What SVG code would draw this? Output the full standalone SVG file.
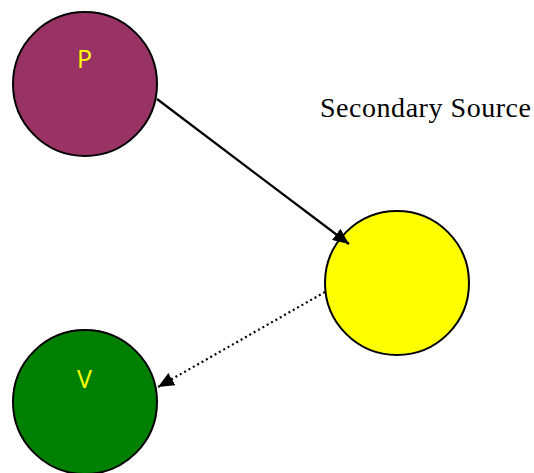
<svg xmlns="http://www.w3.org/2000/svg" width="534" height="473" viewBox="0 0 534 473">
  <defs>
    <marker id="head" viewBox="0 0 16 14" refX="16" refY="7" markerWidth="16" markerHeight="14" markerUnits="userSpaceOnUse" orient="auto">
      <path d="M0,0 L16,7 L0,14 z" fill="#000"/>
    </marker>
    <style>
      .node { stroke: #000; stroke-width: 2; }
      .lbl { font-family: "Open Sans", "Liberation Sans", sans-serif; font-size: 25px; fill: #ffff00; text-anchor: middle; }
      .edge { fill: none; stroke: #000; stroke-width: 2.2; }
    </style>
  </defs>
  <rect width="534" height="473" fill="#fff"/>

  <g id="node-p">
    <circle class="node" cx="85" cy="84" r="72" fill="#993366"/>
    <text class="lbl" x="84.5" y="68">P</text>
  </g>

  <g id="node-source">
    <circle class="node" cx="397" cy="283" r="72" fill="#ffff00"/>
  </g>

  <g id="node-v">
    <circle class="node" cx="85" cy="402" r="72" fill="#008000"/>
    <text class="lbl" x="84.5" y="388">V</text>
  </g>

  <g id="connectors">
    <line class="edge" x1="157" y1="99" x2="349" y2="244" marker-end="url(#head)"/>
    <line class="edge" x1="325" y1="292" x2="158" y2="387" stroke-dasharray="2 3" marker-end="url(#head)"/>
  </g>

  <text x="320" y="117" font-family="'Liberation Serif', 'Times New Roman', serif" font-size="28" textLength="211" lengthAdjust="spacing" fill="#000">Secondary Source</text>
</svg>
